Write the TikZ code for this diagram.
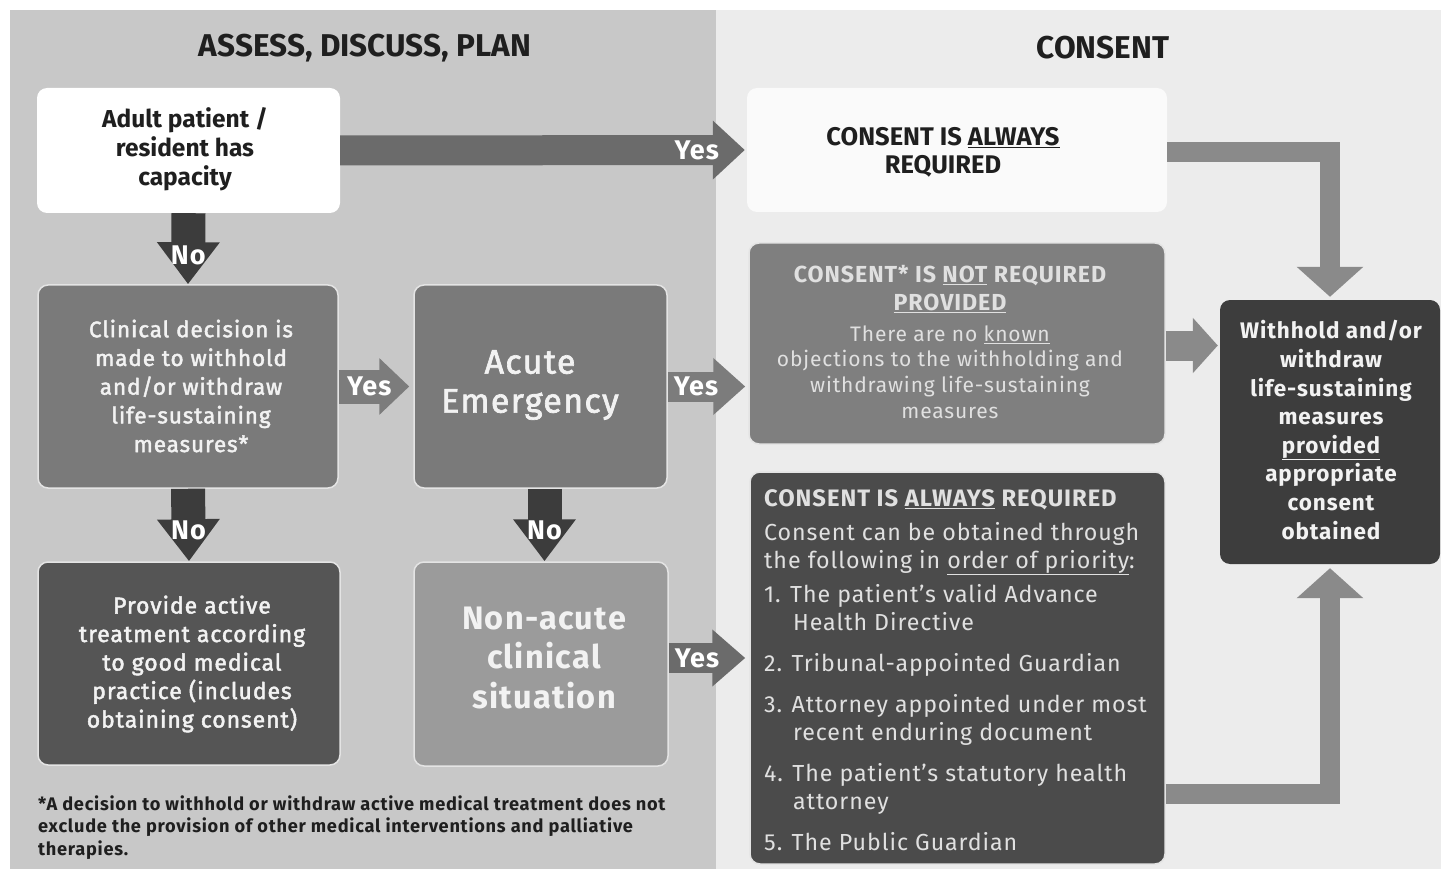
\documentclass[tikz,border=0pt]{standalone}
\usepackage{fontspec}
\setmainfont{Fira Sans}
\newfontfamily\fsp[LetterSpace=4]{Fira Sans}
\newfontfamily\fspmed[LetterSpace=4,FakeBold=2]{Fira Sans}
\usetikzlibrary{arrows.meta,calc}
\definecolor{leftbg}{HTML}{C8C8C8}
\definecolor{rightbg}{HTML}{ECECEC}
\definecolor{midbox}{HTML}{7A7A7A}
\definecolor{darkbox}{HTML}{555555}
\definecolor{lightbox}{HTML}{9B9B9B}
\definecolor{nrbox}{HTML}{7F7F7F}
\definecolor{listbox}{HTML}{4B4B4B}
\definecolor{wbox}{HTML}{3D3D3D}
\definecolor{topbox}{HTML}{FAFAFA}
\definecolor{edgec}{HTML}{E4E4E4}
\definecolor{inkc}{HTML}{1F1F1F}
\definecolor{paletxt}{HTML}{F2F2F2}
\definecolor{listtxt}{HTML}{E0E0E0}
\definecolor{noarr}{HTML}{3C3C3C}
\definecolor{yesarr}{HTML}{6B6B6B}
\definecolor{midarr}{HTML}{7C7C7C}
\definecolor{elbarr}{HTML}{8A8A8A}
\newcommand\fsz[2]{\fontsize{#1pt}{#2pt}\selectfont}
\tikzset{
  box/.style={rounded corners=10pt, inner sep=0pt},
  edged/.style={draw=edgec, line width=1.5pt},
  txt/.style={align=center, inner sep=0pt, text=paletxt},
  head/.style={inner sep=0pt, text=inkc, font=\bfseries\fsz{31.5}{34}},
  lbl/.style={inner sep=0pt, text=white, font=\fsp\bfseries\fsz{27}{28}},
  blockarrow/.style n args={4}{line width=#1, draw=#4, -{Triangle[width=#2, length=#3]}},
}
\begin{document}
\begin{tikzpicture}[x=1pt,y=-1pt]
\useasboundingbox (0,0) rectangle (1441,869);
\fill[white] (0,0) rectangle (1441,869);
\fill[rightbg] (716,10) rectangle (1441,869);
\fill[leftbg] (10,10) rectangle (716,869);

% headings
\node[head] (h1) at (365,48) {ASSESS, DISCUSS, PLAN};
\node[head] (h2) at (1103,48) {CONSENT};

% boxes
\node[box, fill=white, minimum width=303pt, minimum height=125pt] (adult) at (188.5,150.5) {};
\node[box, fill=topbox, minimum width=420pt, minimum height=124pt] (consent1) at (957,150) {};
\node[box, edged, fill=midbox, minimum width=300pt, minimum height=203pt] (clinical) at (188,386.5) {};
\node[box, edged, fill=midbox, minimum width=253pt, minimum height=203pt] (acute) at (540.5,386.5) {};
\node[box, edged, fill=darkbox, minimum width=302pt, minimum height=203pt] (provide) at (189,663.5) {};
\node[box, edged, fill=lightbox, minimum width=254pt, minimum height=204pt] (nonacute) at (541,664) {};
\node[box, edged, fill=nrbox, minimum width=416pt, minimum height=201pt] (consent2) at (957,343.5) {};
\node[box, edged, fill=listbox, minimum width=415pt, minimum height=392pt] (list) at (957.5,668) {};
\node[box, fill=wbox, minimum width=220pt, minimum height=264pt] (withhold) at (1330,432) {};

% box texts
\node[txt, text=inkc, font=\bfseries\fsz{24.5}{29}] (adultT) at (185,149) {Adult patient /\\resident has\\capacity};
\node[txt, text=inkc, font=\bfseries\fsz{25.5}{28}] (consent1T) at (943,152) {CONSENT IS \underline{ALWAYS}\\REQUIRED};
\node[txt, font=\fspmed\fsz{22.5}{28.7}] (clinicalT) at (191,386) {Clinical decision is\\made to withhold\\and/or withdraw\\life-sustaining\\measures*};
\node[txt, font=\fspmed\fsz{34}{39}] (acuteT) at (530,385) {Acute\\Emergency};
\node[txt, font=\fspmed\fsz{23}{28.5}] (provideT) at (192,664) {Provide active\\treatment according\\to good medical\\practice (includes\\obtaining consent)};
\node[txt, font=\fsp\bfseries\fsz{32.5}{39.5}] (nonacuteT) at (544,658) {Non-acute\\clinical\\situation};
\node[txt, text=listtxt, font=\fsp\fsz{21}{26}] (consent2T) at (950,342) {{\bfseries\fsz{23.2}{26}CONSENT* IS \underline{NOT} REQUIRED}\\[2pt]{\bfseries\fsz{23.2}{26}\underline{PROVIDED}}\\[5pt]There are no \underline{known}\\[-1pt]objections to the withholding and\\withdrawing life-sustaining\\measures};
\node[txt, align=left, anchor=west, text=listtxt, font=\fsp\fsz{23.2}{28}] (listT) at (764,670) {{\bfseries\fsz{23.8}{28}CONSENT IS \underline{ALWAYS} REQUIRED}\\[6pt]Consent can be obtained through\\the following in \underline{order of priority}:\\[6pt]1. The patient’s valid Advance\\\hspace*{29pt}Health Directive\\[13pt]2. Tribunal-appointed Guardian\\[13pt]3. Attorney appointed under most\\\hspace*{29pt}recent enduring document\\[13pt]4. The patient’s statutory health\\\hspace*{29pt}attorney\\[13pt]5. The Public Guardian};
\node[txt, font=\fsp\bfseries\fsz{22.5}{28.6}] (withholdT) at (1331,430) {Withhold and/or\\withdraw\\life-sustaining\\measures\\\underline{provided}\\appropriate\\consent\\obtained};
\node[txt, align=left, anchor=west, text=inkc, font=\fsp\bfseries\fsz{18.2}{22.5}] (foot) at (38,827.5) {*A decision to withhold or withdraw active medical treatment does not\\exclude the provision of other medical interventions and palliative\\therapies.};

% connectors
\draw[blockarrow={30pt}{57pt}{32pt}{yesarr}, shorten >=2pt] (adult.east) -- (consent1.west) node[lbl, pos=0.877] (y1) {Yes};
\draw[blockarrow={34pt}{60pt}{42pt}{noarr}] (adult.south) -- (clinical.north) node[lbl, pos=0.6] (n1) {No};
\draw[blockarrow={34pt}{55pt}{30pt}{midarr}, shorten >=4pt] (clinical.east) -- (acute.west) node[lbl, pos=0.41] (y2) {Yes};
\draw[blockarrow={34pt}{60pt}{42pt}{noarr}] (clinical.south) -- (provide.north) node[lbl, pos=0.58] (n2) {No};
\draw[blockarrow={34pt}{60pt}{42pt}{noarr}] ([xshift=4pt]acute.south) -- ([xshift=4pt]acute.south |- nonacute.north) node[lbl, pos=0.58] (n3) {No};
\draw[blockarrow={30pt}{55pt}{32pt}{midarr}, shorten >=3pt] (acute.east) -- (acute.east -| consent2.west) node[lbl, pos=0.35] (y3) {Yes};
\draw[blockarrow={30pt}{55pt}{33pt}{yesarr}, shorten >=4pt] ([yshift=6pt]nonacute.east) -- ([yshift=6pt]nonacute.east -| list.west) node[lbl, pos=0.35] (y4) {Yes};
\draw[blockarrow={30pt}{54pt}{25pt}{elbarr}, shorten >=2pt] ([yshift=-2pt]consent2.east) -- ([yshift=-2pt]consent2.east -| withhold.west);
\draw[blockarrow={20pt}{65pt}{30pt}{elbarr}, shorten >=3pt] ([yshift=-2pt]consent1.east) -| (withhold.north);
\draw[blockarrow={20pt}{65pt}{30pt}{elbarr}, shorten >=4pt] ([yshift=-126pt]list.east) -| (withhold.south);
\end{tikzpicture}
\end{document}
